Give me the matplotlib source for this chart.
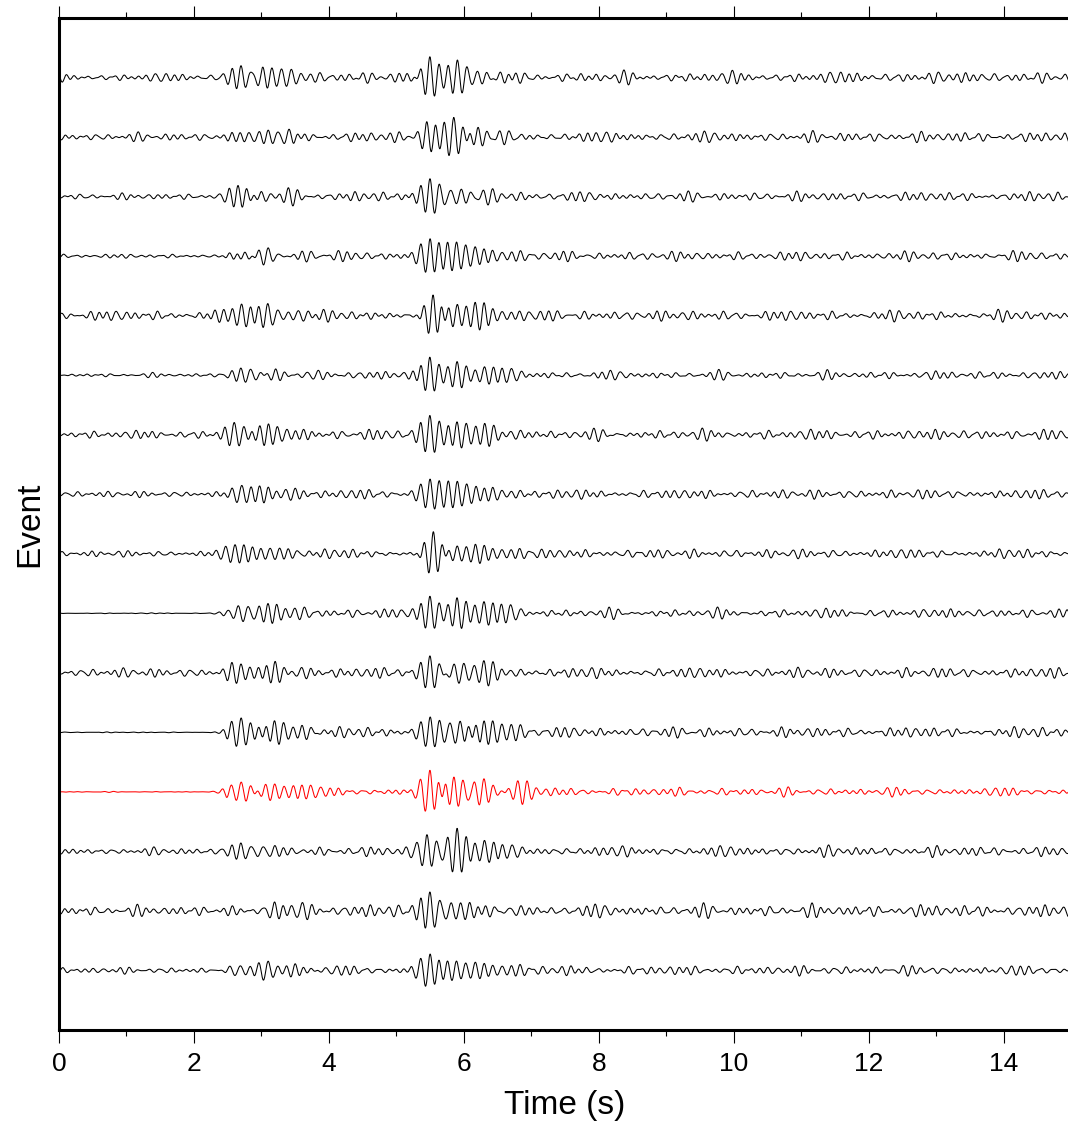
import numpy as np
import matplotlib.pyplot as plt

# Seismogram section: 16 events, the 13th (red) is the reference event
n_traces = 16
highlight = 12  # index of the red trace (top = 0)

# background noise level before / after the P onset (trace units, spacing = 1)
noise_pre = [0.040, 0.040, 0.030, 0.020, 0.050, 0.020, 0.040, 0.030,
             0.030, 0.004, 0.045, 0.004, 0.004, 0.035, 0.050, 0.030]
noise_post = [0.055, 0.050, 0.045, 0.045, 0.050, 0.040, 0.050, 0.045,
              0.045, 0.045, 0.050, 0.050, 0.040, 0.050, 0.060, 0.045]
noise_phase = [0.3, 1.7, 2.9, 4.2, 5.1, 0.9, 2.2, 3.6,
               4.8, 1.2, 2.6, 3.9, 5.6, 0.6, 1.9, 4.5]

# P-wave bursts: centre times (s) and peak amplitudes
p_times = [[2.70, 3.15, 3.60], [2.70, 3.10, 3.40], [2.65, 3.00, 3.40], [2.75, 3.10, 3.60],
           [2.70, 3.10, 3.55], [2.70, 3.20, 3.70], [2.60, 3.10, 3.50], [2.70, 3.10, 3.50],
           [2.60, 3.00, 3.40], [2.65, 3.10, 3.50], [2.70, 3.20, 3.60], [2.70, 3.20, 3.60],
           [2.70, 3.20, 3.60], [2.70, 3.20, 3.60], [2.70, 3.20, 3.60], [2.70, 3.10, 3.50]]
p_amps = [[0.17, 0.17, 0.10], [0.12, 0.15, 0.10], [0.17, 0.13, 0.10], [0.10, 0.13, 0.07],
          [0.18, 0.17, 0.08], [0.10, 0.10, 0.06], [0.15, 0.14, 0.10], [0.12, 0.12, 0.07],
          [0.12, 0.12, 0.08], [0.10, 0.12, 0.07], [0.13, 0.13, 0.08], [0.18, 0.18, 0.10],
          [0.15, 0.15, 0.10], [0.12, 0.12, 0.08], [0.13, 0.15, 0.09], [0.12, 0.12, 0.08]]

# S-wave packet: centre times (s) and peak amplitudes
s_times = [[5.50, 5.90, 6.20, 6.55], [5.45, 5.85, 6.20, 6.55], [5.50, 5.95, 6.30, 6.70],
           [5.50, 5.90, 6.30, 6.70], [5.55, 5.90, 6.30, 6.70], [5.50, 5.90, 6.30, 6.70],
           [5.50, 5.90, 6.30, 6.70], [5.50, 5.90, 6.30, 6.70], [5.55, 5.90, 6.30, 6.70],
           [5.50, 5.90, 6.30, 6.70], [5.50, 5.85, 6.30, 6.70], [5.50, 5.95, 6.30, 6.70],
           [5.50, 5.85, 6.30, 6.80], [5.45, 5.90, 6.30, 6.70], [5.50, 5.95, 6.30, 6.70],
           [5.50, 5.90, 6.30, 6.70]]
s_amps = [[0.30, 0.22, 0.15, 0.10], [0.25, 0.32, 0.18, 0.10], [0.32, 0.15, 0.10, 0.07],
          [0.32, 0.20, 0.12, 0.07], [0.30, 0.20, 0.18, 0.08], [0.30, 0.18, 0.10, 0.06],
          [0.32, 0.20, 0.12, 0.07], [0.30, 0.20, 0.10, 0.06], [0.30, 0.20, 0.12, 0.07],
          [0.30, 0.20, 0.15, 0.08], [0.32, 0.15, 0.12, 0.07], [0.30, 0.25, 0.20, 0.15],
          [0.35, 0.25, 0.20, 0.17], [0.25, 0.33, 0.18, 0.10], [0.30, 0.18, 0.10, 0.07],
          [0.32, 0.20, 0.12, 0.07]]

x_ticks = [0, 2, 4, 6, 8, 10, 12, 14]

t = np.arange(0, 15.2, 0.004)
f0 = 7.2  # dominant frequency (Hz)


def wavelet(tc, amp, sig):
    return amp * np.exp(-0.5 * ((t - tc) / sig) ** 2) * np.cos(2 * np.pi * f0 * (t - tc))


def trace(i):
    # background: a few incommensurate tones, level stepping up at the P onset
    freqs = [4.9, 6.2, 6.9, 8.1, 9.3, 7.5]
    mult = [1.0, 2.3, 3.7, 5.1, 0.6, 4.4]
    bg = sum(np.cos(2 * np.pi * f * t + m * noise_phase[i]) for f, m in zip(freqs, mult)) / 2.4
    step = 0.5 * (1 + np.tanh((t - 2.45) / 0.05))
    y = bg * (noise_pre[i] + (noise_post[i] - noise_pre[i]) * step)
    for tc, a in zip(p_times[i], p_amps[i]):
        y += wavelet(tc, a, 0.15)
    for k, (tc, a) in enumerate(zip(s_times[i], s_amps[i])):
        y += wavelet(tc, a, 0.13 if k == 0 else 0.16)
    return y


fig = plt.figure(figsize=(10.68, 11.31), dpi=100)
ax = fig.add_axes([59 / 1068, 1 - 1030 / 1131, 1012 / 1068, 1012 / 1131])

for i in range(n_traces):
    base = n_traces - i  # top trace at y = 16
    color = 'red' if i == highlight else 'black'
    ax.plot(t, base + trace(i), color=color, lw=0.75)

ax.set_xlim(0, 15)
ax.set_ylim(0, 17)
ax.set_xticks(x_ticks)
ax.set_xticks(np.arange(0, 16, 1), minor=True)
ax.set_yticks([])
ax.tick_params(axis='x', which='major', direction='out', length=9, width=0.8,
               top=True, labelsize=19, pad=7)
ax.tick_params(axis='x', which='minor', direction='out', length=4, width=0.8, top=True)
for sp in ax.spines.values():
    sp.set_linewidth(2.2)

plt.rcParams['font.family'] = ['Liberation Sans', 'DejaVu Sans']
for lab in ax.get_xticklabels():
    lab.set_family(['Liberation Sans', 'DejaVu Sans'])
ax.set_xlabel('Time (s)', fontsize=24, family=['Liberation Sans', 'DejaVu Sans'], labelpad=10)
ax.set_ylabel('Event', fontsize=24, family=['Liberation Sans', 'DejaVu Sans'], labelpad=10)

fig.savefig('out.png', dpi=100)
